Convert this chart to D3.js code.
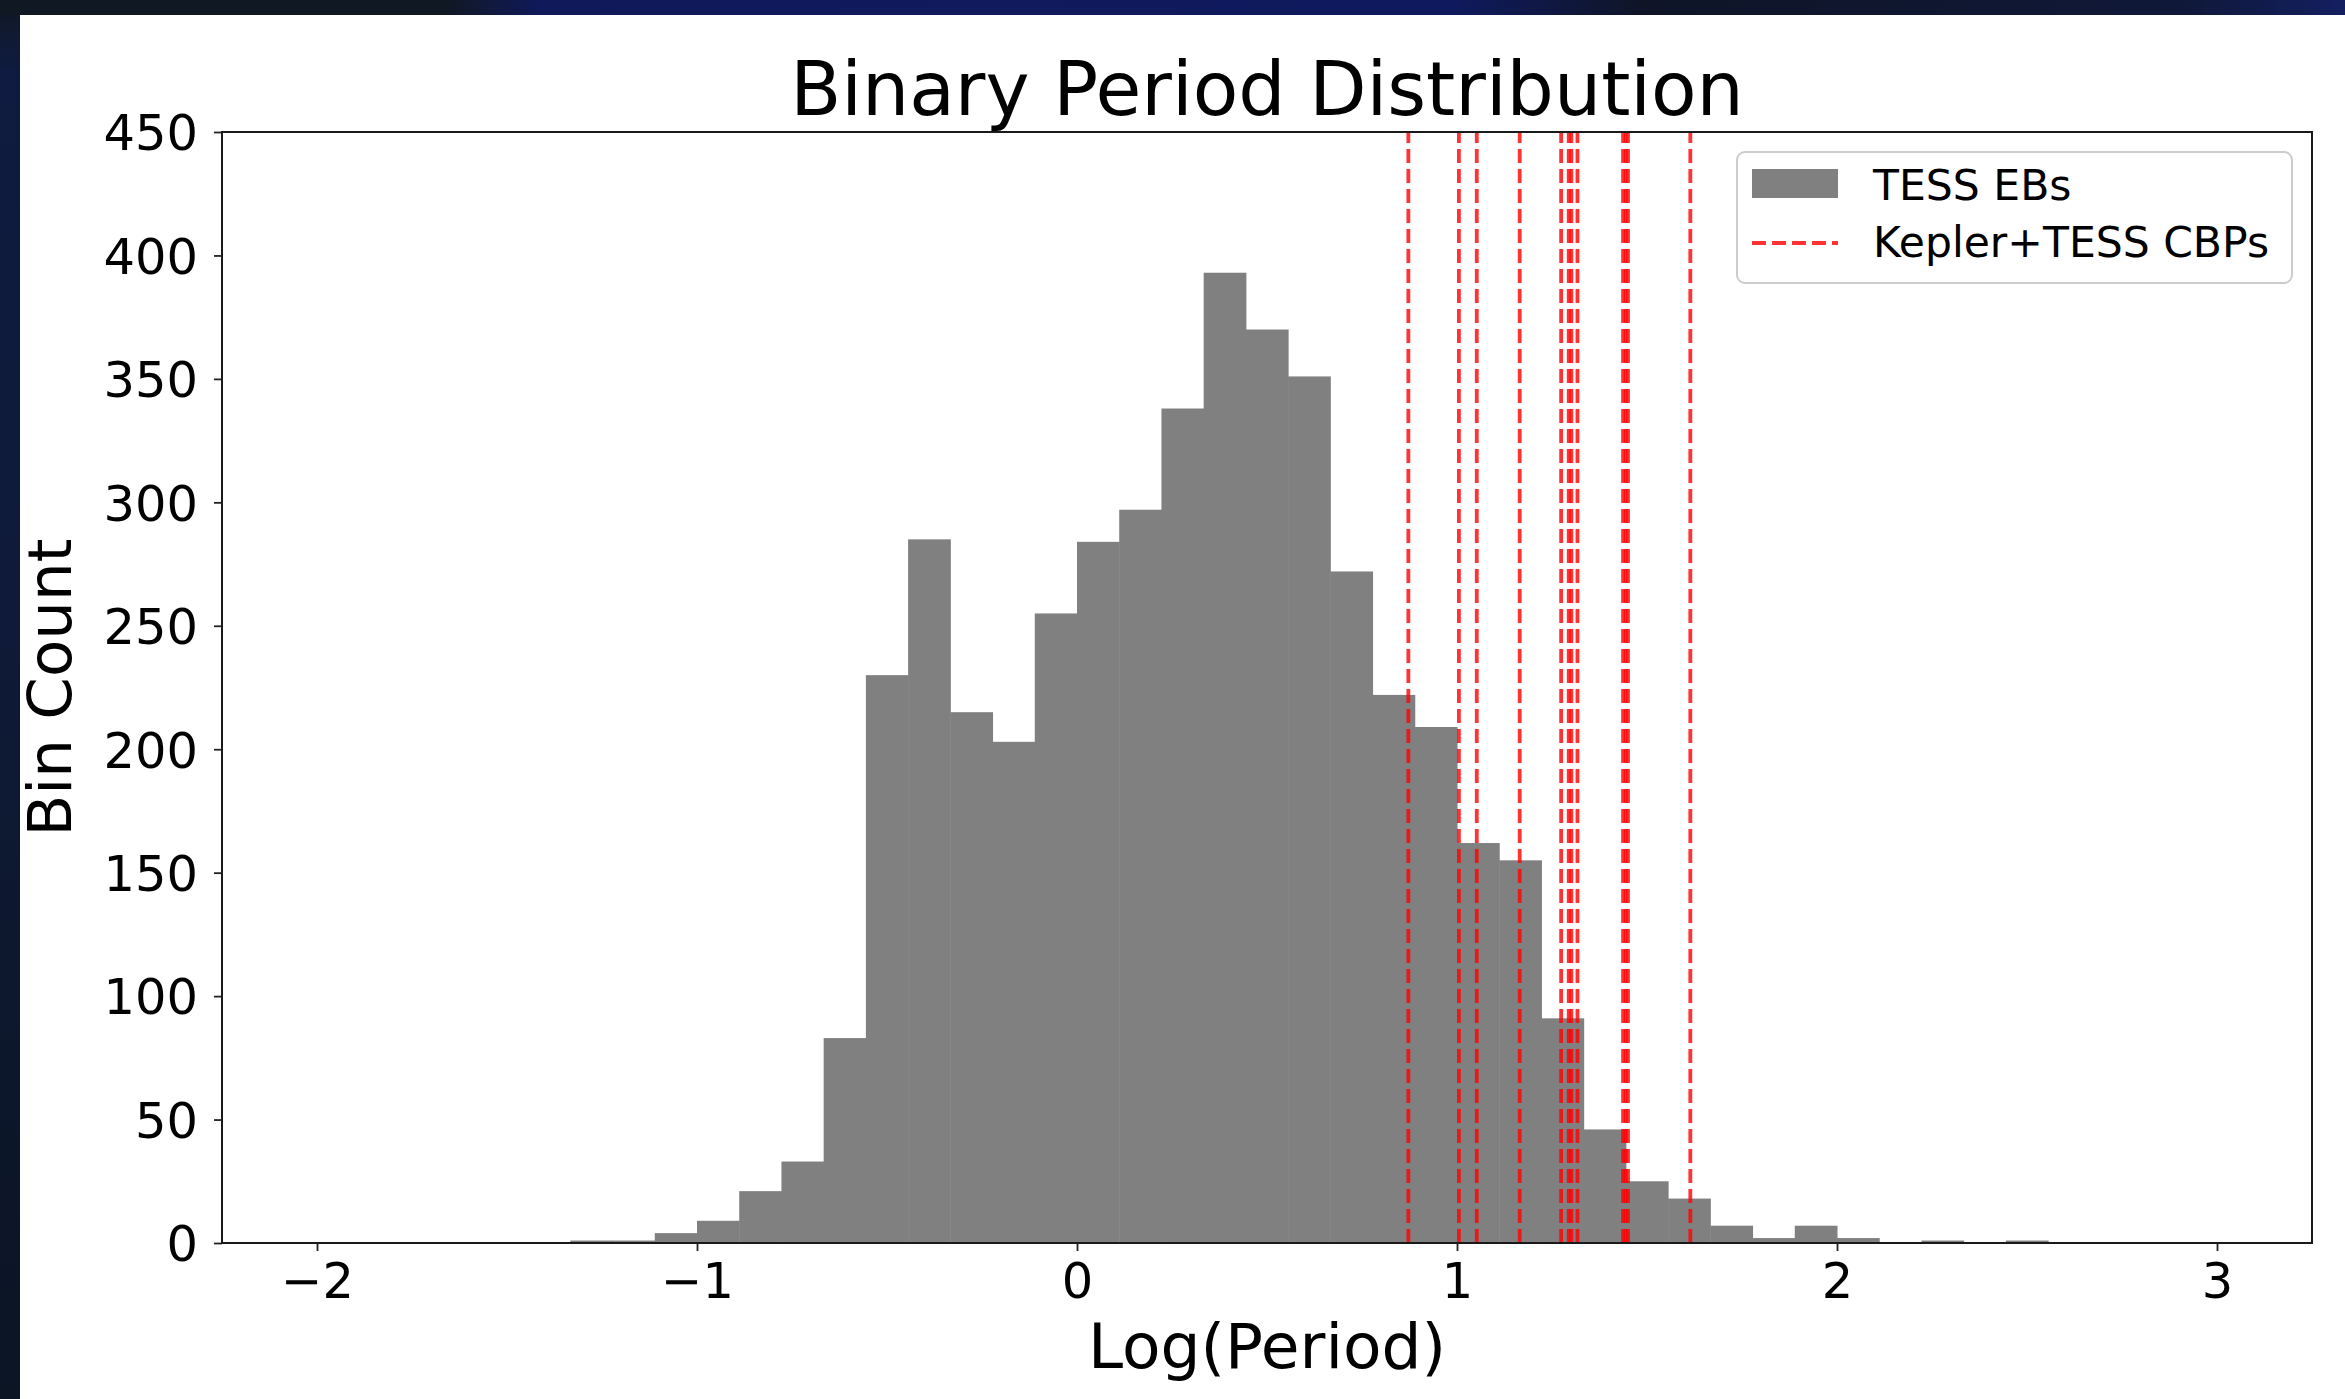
<!DOCTYPE html>
<html>
<head>
<meta charset="utf-8">
<script src="https://cdn.jsdelivr.net/npm/d3@7"></script>
<style>
  html, body { margin: 0; padding: 0; background: #0e1524; overflow: hidden; }
  text { font-family: "DejaVu Sans", sans-serif; fill: #000; }
  .tick text { font-size: 49.5px; }
  .tick line { stroke: #222; stroke-width: 1.8; }
</style>
</head>
<body>
<div id="chart"></div>
<script>
// histogram of TESS EBs: 45 bins over log(period) -2..3
var bin_range = [-2, 3],
  bin_count = 45;

var counts = [
  0, 0, 0, 0, 0, 0, 1, 1, 4, 9,
  21, 33, 83, 230, 285, 215, 203, 255, 284, 297,
  338, 393, 370, 351, 272, 222, 209, 162, 155, 91,
  46, 25, 18, 7, 2, 7, 2, 0, 1, 0,
  1, 0, 0, 0, 0
];

// Kepler+TESS circumbinary planet hosts, log(period)
var cbp_log_periods = [0.872, 1.005, 1.052, 1.165, 1.274, 1.294, 1.301, 1.317, 1.437, 1.444, 1.450, 1.614];

var x_ticks = [-2, -1, 0, 1, 2, 3];
var y_ticks = [0, 50, 100, 150, 200, 250, 300, 350, 400, 450];

var legend_labels = ["TESS EBs", "Kepler+TESS CBPs"];

var width = 2345,
  height = 1399;
var margins = { top: 132, right: 33, bottom: 156, left: 222 };

var svg = d3
  .select("#chart")
  .append("svg")
  .attr("width", width)
  .attr("height", height)
  .attr("viewBox", [0, 0, width, height]);

// slide background (dark frame round the white figure)
var defs = svg.append("defs");
var top_grad = defs.append("linearGradient").attr("id", "top-grad");
[
  [0, "#101823"], [0.19, "#101823"], [0.23, "#10195a"], [0.62, "#0f1a5e"],
  [0.7, "#0f1527"], [0.93, "#0f1838"], [1, "#131f60"]
].forEach((s) => top_grad.append("stop").attr("offset", s[0]).attr("stop-color", s[1]));

var left_grad = defs
  .append("linearGradient")
  .attr("id", "left-grad")
  .attr("x1", 0).attr("y1", 0).attr("x2", 0).attr("y2", 1);
[
  [0, "#101823"], [0.05, "#0f1b40"], [0.4, "#0e1a38"], [1, "#0c1524"]
].forEach((s) => left_grad.append("stop").attr("offset", s[0]).attr("stop-color", s[1]));

svg.append("rect").attr("width", width).attr("height", height).attr("fill", "url(#left-grad)");
svg.append("rect").attr("width", width).attr("height", 15).attr("fill", "url(#top-grad)");
svg.append("rect").attr("x", 20).attr("y", 15).attr("width", width - 20).attr("height", height - 15).attr("fill", "#ffffff");

var x = d3
  .scaleLinear()
  .domain([-2.25, 3.25])
  .range([margins.left, width - margins.right]);

var y = d3
  .scaleLinear()
  .domain([0, 450])
  .range([height - margins.bottom, margins.top]);

// bins
var bin_width = (bin_range[1] - bin_range[0]) / bin_count;
var bins = counts.map((c, i) => ({
  x0: bin_range[0] + i * bin_width,
  x1: bin_range[0] + (i + 1) * bin_width,
  count: c
}));

svg
  .append("clipPath")
  .attr("id", "plot-clip")
  .append("rect")
  .attr("x", margins.left)
  .attr("y", margins.top)
  .attr("width", width - margins.left - margins.right)
  .attr("height", height - margins.top - margins.bottom);

var plot = svg.append("g").attr("clip-path", "url(#plot-clip)");

plot
  .selectAll("rect.bar")
  .data(bins.filter((d) => d.count > 0))
  .enter()
  .append("rect")
  .attr("class", "bar")
  .attr("x", (d) => x(d.x0))
  .attr("y", (d) => y(d.count))
  .attr("width", (d) => x(d.x1) - x(d.x0) + 0.5)
  .attr("height", (d) => y(0) - y(d.count))
  .attr("fill", "#808080");

// CBP dashed lines, full height
plot
  .selectAll("line.cbp")
  .data(cbp_log_periods)
  .enter()
  .append("line")
  .attr("class", "cbp")
  .attr("x1", (d) => x(d))
  .attr("x2", (d) => x(d))
  .attr("y1", y(0))
  .attr("y2", margins.top)
  .attr("stroke", "#ff0000")
  .attr("stroke-opacity", 0.8)
  .attr("stroke-width", 3.8)
  .attr("stroke-dasharray", "14,6");

// axes
var x_axis = svg
  .append("g")
  .attr("transform", "translate(0," + y(0) + ")")
  .call(
    d3.axisBottom(x)
      .tickValues(x_ticks)
      .tickFormat(d3.format("d"))
      .tickSize(8)
      .tickSizeOuter(0)
      .tickPadding(12)
  );

var y_axis = svg
  .append("g")
  .attr("transform", "translate(" + margins.left + ",0)")
  .call(d3.axisLeft(y).tickValues(y_ticks).tickSize(8).tickSizeOuter(0).tickPadding(16));

x_axis.select(".domain").remove();
y_axis.select(".domain").remove();
y_axis.selectAll(".tick text").attr("dy", "0.36em");

// spines
svg
  .append("rect")
  .attr("x", margins.left)
  .attr("y", margins.top)
  .attr("width", width - margins.left - margins.right)
  .attr("height", height - margins.top - margins.bottom)
  .attr("fill", "none")
  .attr("stroke", "#1a1a1a")
  .attr("stroke-width", 2);

// title + labels
svg
  .append("text")
  .attr("x", (margins.left + width - margins.right) / 2)
  .attr("y", 115)
  .attr("text-anchor", "middle")
  .style("font-size", "74.5px")
  .text("Binary Period Distribution");

svg
  .append("text")
  .attr("x", (margins.left + width - margins.right) / 2)
  .attr("y", 1368)
  .attr("text-anchor", "middle")
  .style("font-size", "63px")
  .text("Log(Period)");

svg
  .append("text")
  .attr("transform", "translate(71," + (margins.top + height - margins.bottom) / 2 + ") rotate(-90)")
  .attr("text-anchor", "middle")
  .style("font-size", "61px")
  .text("Bin Count");

// legend
var legend = svg.append("g").attr("transform", "translate(1737,152)");

legend
  .append("rect")
  .attr("width", 555)
  .attr("height", 131)
  .attr("rx", 8)
  .attr("fill", "#ffffff")
  .attr("fill-opacity", 0.8)
  .attr("stroke", "#cccccc")
  .attr("stroke-width", 2);

legend
  .append("rect")
  .attr("x", 15)
  .attr("y", 17)
  .attr("width", 86)
  .attr("height", 29)
  .attr("fill", "#808080");

legend
  .append("line")
  .attr("x1", 15)
  .attr("x2", 101)
  .attr("y1", 91)
  .attr("y2", 91)
  .attr("stroke", "#ff0000")
  .attr("stroke-opacity", 0.8)
  .attr("stroke-width", 3.8)
  .attr("stroke-dasharray", "14,6");

legend
  .selectAll("text.leg")
  .data(legend_labels)
  .enter()
  .append("text")
  .attr("class", "leg")
  .attr("x", 136)
  .attr("y", (d, i) => 48 + i * 57)
  .style("font-size", "42.5px")
  .text((d) => d);
</script>
</body>
</html>
